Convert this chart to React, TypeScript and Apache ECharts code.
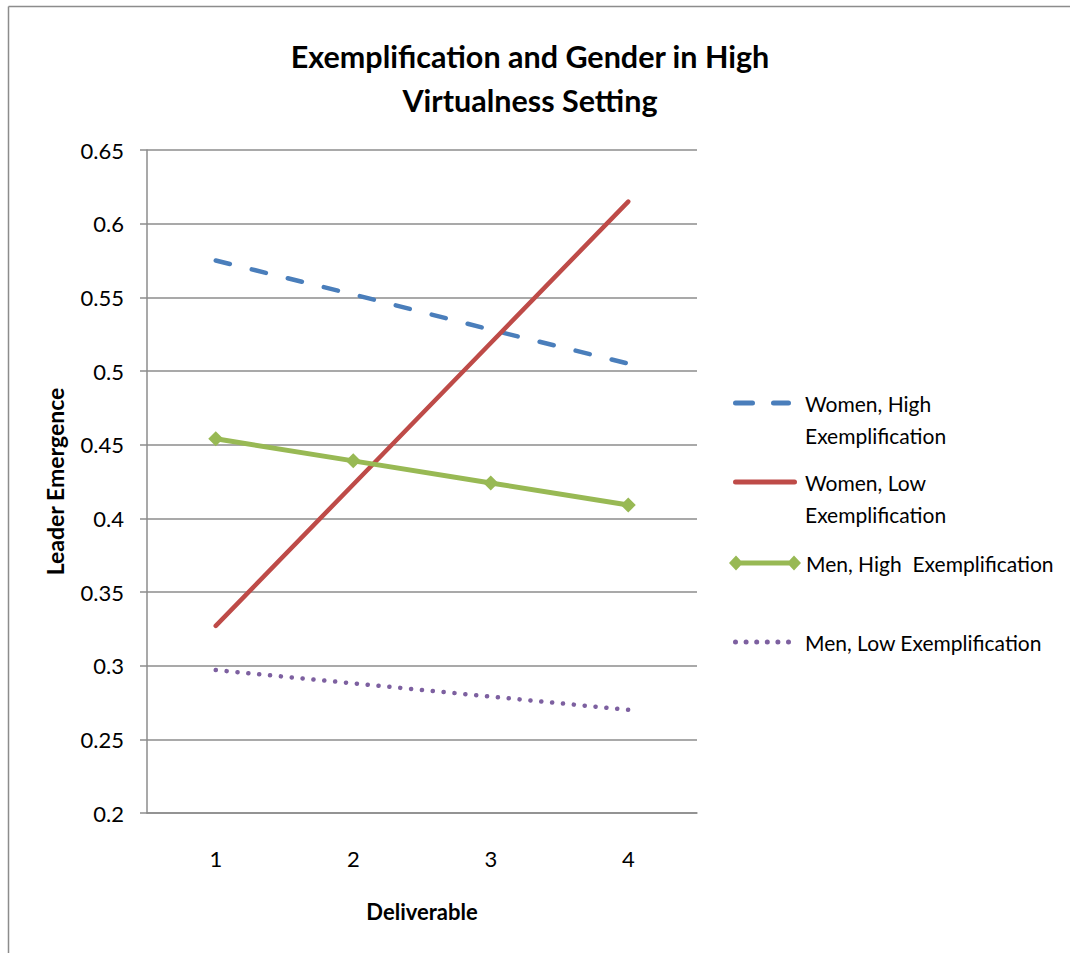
import React, { useEffect, useRef } from "react";
import * as echarts from "echarts";

const categories = ["1", "2", "3", "4"];
const womenHigh = [0.575, 0.552, 0.528, 0.505];
const womenLow = [0.327, 0.423, 0.519, 0.615];
const menHigh = [0.454, 0.439, 0.424, 0.409];
const menLow = [0.297, 0.288, 0.279, 0.27];
const seriesNames = [
  "Women, High Exemplification",
  "Women, Low Exemplification",
  "Men, High Exemplification",
  "Men, Low Exemplification",
];
const legendLabels = [
  "\nWomen, High\nExemplification",
  "\nWomen, Low\nExemplification",
  "Men, High  Exemplification",
  "Men, Low Exemplification",
];

const FONT = "Lato, 'Open Sans', sans-serif";
const GRAY = "#8c8c8c";

const ICON_DASH =
  "path://M2.5,0 L19.5,0 A2.5,2.5 0 0 1 19.5,5 L2.5,5 A2.5,2.5 0 0 1 2.5,0 Z M40.5,0 L55.5,0 A2.5,2.5 0 0 1 55.5,5 L40.5,5 A2.5,2.5 0 0 1 40.5,0 Z";
const ICON_SOLID =
  "path://M2.5,0 L61.5,0 A2.5,2.5 0 0 1 61.5,5 L2.5,5 A2.5,2.5 0 0 1 2.5,0 Z";
const ICON_DIAMOND =
  "path://M0,7.5 L7,0 L14,7.5 L7,15 Z M58,7.5 L65,0 L72,7.5 L65,15 Z M7,5 L65,5 L65,10 L7,10 Z";
const ICON_DOTS =
  "path://M0,2.5 A2.5,2.5 0 1 1 5,2.5 A2.5,2.5 0 1 1 0,2.5 Z M10.6,2.5 A2.5,2.5 0 1 1 15.6,2.5 A2.5,2.5 0 1 1 10.6,2.5 Z M21.2,2.5 A2.5,2.5 0 1 1 26.2,2.5 A2.5,2.5 0 1 1 21.2,2.5 Z M31.8,2.5 A2.5,2.5 0 1 1 36.8,2.5 A2.5,2.5 0 1 1 31.8,2.5 Z M42.4,2.5 A2.5,2.5 0 1 1 47.4,2.5 A2.5,2.5 0 1 1 42.4,2.5 Z M53,2.5 A2.5,2.5 0 1 1 58,2.5 A2.5,2.5 0 1 1 53,2.5 Z";

export default function App() {
  const ref = useRef<HTMLDivElement>(null);
  useEffect(() => {
    if (!ref.current) return;
    const chart = echarts.init(ref.current, null, { renderer: "svg" });
    const legendBase = {
      orient: "horizontal",
      padding: 0,
      selectedMode: false,
      formatter: (name: string) => legendLabels[seriesNames.indexOf(name)],
    };
    const txt = (padLeft: number) => ({
      fontFamily: FONT,
      fontSize: 21,
      color: "#000",
      lineHeight: 32,
      padding: [0, 0, 0, padLeft],
    });
    chart.setOption({
      animation: false,
      backgroundColor: "#fff",
      title: {
        text: "Exemplification and Gender in High\nVirtualness Setting",
        left: 525,
        top: 29,
        textAlign: "center",
        textStyle: {
          fontFamily: FONT,
          fontWeight: "bold",
          fontSize: 30.5,
          lineHeight: 44,
          color: "#000",
        },
      },
      graphic: [
        {
          type: "line",
          shape: { x1: 8.5, y1: 6.5, x2: 1080, y2: 6.5 },
          style: { stroke: GRAY, lineWidth: 1.5 },
        },
        {
          type: "line",
          shape: { x1: 8.5, y1: 6.5, x2: 8.5, y2: 960 },
          style: { stroke: GRAY, lineWidth: 1.5 },
        },
      ],
      legend: [
        {
          ...legendBase,
          left: 733,
          top: 355,
          itemWidth: 58,
          itemHeight: 5,
          data: [{ name: seriesNames[0], icon: ICON_DASH }],
          textStyle: txt(9),
        },
        {
          ...legendBase,
          left: 733,
          top: 434,
          itemWidth: 64,
          itemHeight: 5,
          data: [{ name: seriesNames[1], icon: ICON_SOLID }],
          textStyle: txt(3),
        },
        {
          ...legendBase,
          left: 729,
          top: 547,
          itemWidth: 72,
          itemHeight: 15,
          data: [{ name: seriesNames[2], icon: ICON_DIAMOND }],
          textStyle: txt(0),
        },
        {
          ...legendBase,
          left: 733,
          top: 626,
          itemWidth: 58,
          itemHeight: 5,
          data: [{ name: seriesNames[3], icon: ICON_DOTS }],
          textStyle: txt(9),
        },
      ],
      grid: { left: 147, top: 150, width: 550, height: 663, containLabel: false },
      xAxis: {
        type: "category",
        data: categories,
        boundaryGap: true,
        name: "Deliverable",
        nameLocation: "middle",
        nameGap: 87,
        nameTextStyle: { fontFamily: FONT, fontSize: 22, fontWeight: "bold", color: "#000" },
        axisLine: { lineStyle: { color: GRAY, width: 1.5 } },
        axisTick: { show: false },
        axisLabel: { fontFamily: FONT, fontSize: 22, color: "#000", margin: 34 },
      },
      yAxis: {
        type: "value",
        min: 0.2,
        max: 0.65,
        interval: 0.05,
        name: "Leader Emergence",
        nameLocation: "middle",
        nameGap: 81,
        nameRotate: 90,
        nameTextStyle: { fontFamily: FONT, fontSize: 23, fontWeight: "bold", color: "#000" },
        axisLine: { show: true, lineStyle: { color: GRAY, width: 1.5 } },
        axisTick: { show: true, length: 7, lineStyle: { color: GRAY, width: 1.5 } },
        splitLine: { lineStyle: { color: GRAY, width: 1.5 } },
        axisLabel: {
          fontFamily: FONT,
          fontSize: 22,
          color: "#000",
          margin: 23,
          formatter: (v: number) => String(+v.toFixed(2)),
        },
      },
      series: [
        {
          name: seriesNames[0],
          type: "line",
          data: womenHigh,
          symbol: "none",
          color: "#4a7ebb",
          lineStyle: { width: 4.5, type: [14.5, 22.6], cap: "round", color: "#4a7ebb" },
        },
        {
          name: seriesNames[1],
          type: "line",
          data: womenLow,
          symbol: "none",
          color: "#be4b48",
          lineStyle: { width: 4.5, cap: "round", color: "#be4b48" },
        },
        {
          name: seriesNames[2],
          type: "line",
          data: menHigh,
          symbol: "diamond",
          symbolSize: 15,
          color: "#98b954",
          itemStyle: { color: "#98b954" },
          lineStyle: { width: 5, color: "#98b954" },
        },
        {
          name: seriesNames[3],
          type: "line",
          data: menLow,
          symbol: "none",
          color: "#7d60a0",
          lineStyle: { width: 4.5, type: [0.1, 10.8], cap: "round", color: "#7d60a0" },
        },
      ],
    });
    return () => chart.dispose();
  }, []);
  return (
    <div
      ref={ref}
      style={{ position: "absolute", left: 0, top: 0, width: 1070, height: 953 }}
    />
  );
}
